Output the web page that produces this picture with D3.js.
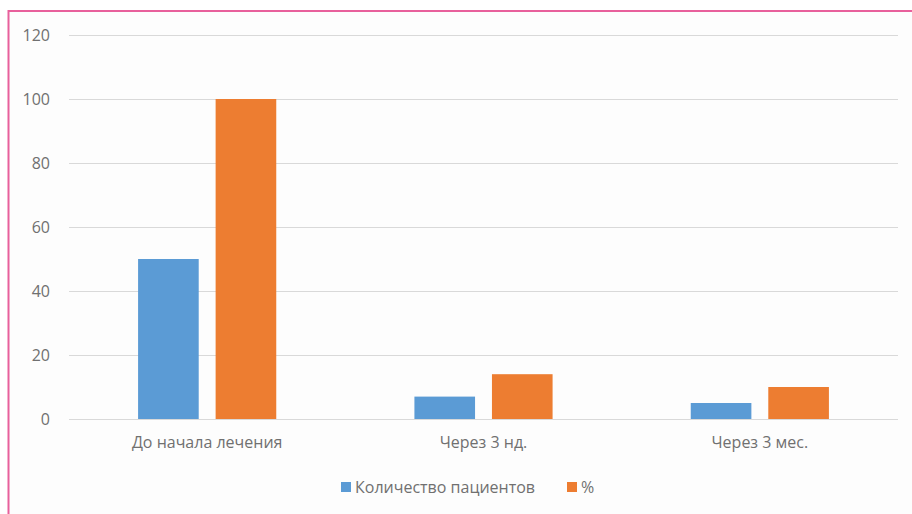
<!DOCTYPE html>
<html><head><meta charset="utf-8">
<script src="https://cdn.jsdelivr.net/npm/d3@7"></script>
<style>html,body{margin:0;padding:0;background:#fff;}svg{display:block;}</style>
</head><body>
<script>
const categories = ["До начала лечения", "Через 3 нд.", "Через 3 мес."];
const seriesNames = ["Количество пациентов", "%"];
const patients = [50, 7, 5];
const percent = [100, 14, 10];
const yTicks = [0, 20, 40, 60, 80, 100, 120];
const colors = ["#5b9bd5", "#ed7d31"];

const W = 912, H = 514;
const svg = d3.select("body").append("svg").attr("width", W).attr("height", H);
svg.append("rect").attr("x", 0).attr("y", 0).attr("width", W).attr("height", H).attr("fill", "#fff");
svg.append("rect").attr("x", 8.5).attr("y", 11).attr("width", W + 10).attr("height", H + 10)
  .attr("fill", "#fdfdfd").attr("stroke", "#e8609c").attr("stroke-width", 2);

const font = "'Open Sans', sans-serif";
const txt = "#707070";
const y = d3.scaleLinear().domain([0, 120]).range([419, 35]);
const x0 = d3.scaleBand().domain(categories).range([69, 898]).padding(0);
const bw = x0.bandwidth();
const x1 = d3.scaleBand().domain(seriesNames).range([bw * 0.25, bw * 0.75]).paddingInner(0.218);

// grid
const grid = svg.append("g")
  .call(d3.axisLeft(y).tickValues(yTicks).tickSize(-(898 - 69)).tickFormat(""))
  .attr("transform", "translate(69,0)");
grid.select(".domain").remove();
grid.selectAll(".tick line").attr("stroke", "#d9d9d9").attr("stroke-width", 1);

// y labels
const yAx = svg.append("g").attr("transform", "translate(50,0)")
  .call(d3.axisLeft(y).tickValues(yTicks).tickSize(0).tickPadding(0));
yAx.select(".domain").remove();
yAx.selectAll("text").attr("font-family", font).attr("font-size", 16).attr("fill", txt);

// bars
const data = categories.map((c, i) => ({cat: c, vals: [patients[i], percent[i]]}));
const groups = svg.append("g").selectAll("g").data(data).join("g")
  .attr("transform", d => `translate(${x0(d.cat)},0)`);
groups.selectAll("rect").data(d => d.vals.map((v, j) => ({s: seriesNames[j], v, j}))).join("rect")
  .attr("x", d => x1(d.s)).attr("width", x1.bandwidth())
  .attr("y", d => y(d.v)).attr("height", d => y(0) - y(d.v))
  .attr("fill", d => colors[d.j]);

// x labels
const xAx = svg.append("g").attr("transform", "translate(0,419)")
  .call(d3.axisBottom(x0).tickSize(0).tickPadding(18));
xAx.select(".domain").remove();
xAx.selectAll("text").attr("font-family", font).attr("font-size", 16).attr("fill", txt);

// legend
const legX = [341, 567];
const leg = svg.append("g");
seriesNames.forEach((s, i) => {
  leg.append("rect").attr("x", legX[i]).attr("y", 482).attr("width", 10).attr("height", 10).attr("fill", colors[i]);
  leg.append("text").attr("x", legX[i] + 14).attr("y", 493).attr("font-family", font).attr("font-size", 16)
    .attr("fill", txt).text(s);
});
</script>
</body></html>
